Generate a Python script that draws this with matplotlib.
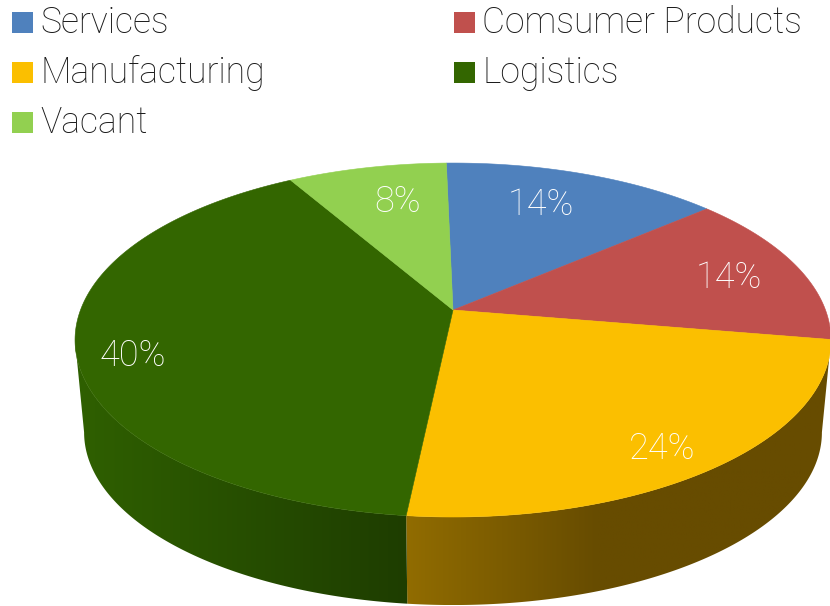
import numpy as np
import matplotlib
matplotlib.use("Agg")
import matplotlib.pyplot as plt
from matplotlib.patches import Polygon, Rectangle
from matplotlib.colors import LinearSegmentedColormap

# Occupancy shares by sector
categories = ["Services", "Comsumer Products", "Manufacturing", "Logistics", "Vacant"]
shares = [14, 14, 24, 40, 8]
colors = ["#4F81BD", "#C0504D", "#FBBF00", "#336600", "#92D050"]

# Shading along the visible rim of each slice (left colour, right colour)
rim_shades = {
    2: ("#916C00", "#674C00"),
    3: ("#2F6000", "#1E3D00"),
}

plt.rcParams["font.family"] = ["Roboto", "DejaVu Sans"]
plt.rcParams["font.weight"] = "light"

fig = plt.figure(figsize=(8.3, 6.06), dpi=100)
ax = fig.add_axes([0, 0, 1, 1])
ax.set_xlim(0, 830)
ax.set_ylim(606, 0)
ax.axis("off")

TILT = 0.1696
START = np.radians(-1.2)


def project(theta, cx, cy, scale):
    """Perspective view of a unit circle; theta runs clockwise from the top."""
    u, v = np.sin(theta), np.cos(theta)
    den = 1 + TILT * v
    return cx + scale * 372.5 * u / den, cy - scale * 171.9 * v / den


TOP = (453, 310, 1.0)
BOTTOM = (453, 403, 0.976)

edges = START + 2 * np.pi * np.concatenate([[0], np.cumsum(shares)]) / sum(shares)
silhouette_r = np.pi - np.arcsin(np.sqrt(1 - TILT**2))
silhouette_l = np.pi + np.arcsin(np.sqrt(1 - TILT**2))

# Rim of the disc, drawn first so the top face overlaps it
for i, (left, right) in rim_shades.items():
    lo = max(edges[i], silhouette_r)
    hi = min(edges[i + 1], silhouette_l)
    t = np.linspace(lo, hi, 200)
    xt, yt = project(t, *TOP)
    xb, yb = project(t[::-1], *BOTTOM)
    verts = np.column_stack([np.r_[xt, xb], np.r_[yt, yb]])
    poly = Polygon(verts, closed=True, facecolor="none", edgecolor="none")
    ax.add_patch(poly)
    x0, x1 = verts[:, 0].min(), verts[:, 0].max()
    y0, y1 = verts[:, 1].min(), verts[:, 1].max()
    if i == 2:
        cmap = LinearSegmentedColormap.from_list("rim", [(0, left), (0.45, right), (1, right)])
    else:
        cmap = LinearSegmentedColormap.from_list("rim", [(0, left), (1, right)])
    grad = np.linspace(0, 1, 256).reshape(1, -1)
    im = ax.imshow(grad, cmap=cmap, extent=(x0, x1, y1, y0), aspect="auto", zorder=1)
    im.set_clip_path(poly)

ax.set_xlim(0, 830)
ax.set_ylim(606, 0)

# Top face
for i, c in enumerate(colors):
    t = np.linspace(edges[i], edges[i + 1], 200)
    x, y = project(t, *TOP)
    verts = np.column_stack([np.r_[TOP[0], x], np.r_[TOP[1], y]])
    ax.add_patch(Polygon(verts, closed=True, facecolor=c, edgecolor=c, linewidth=0.4, zorder=2))

# Percentage labels
label_xy = [(541, 205), (729, 278), (662, 449), (133, 356), (398, 202)]
for value, (lx, ly) in zip(shares, label_xy):
    ax.text(lx, ly, f"{value}%", color="white", fontsize=26, ha="center", va="center", zorder=3)

# Legend, filled row by row in two columns
for i, (name, c) in enumerate(zip(categories, colors)):
    col, row = i % 2, i // 2
    px = 12 + col * 442
    py = 12 + row * 50
    ax.add_patch(Rectangle((px, py), 21, 21, facecolor=c, edgecolor="none", zorder=3))
    ax.text(px + 28, py + 11, name, color="#1a1a1a", fontsize=25.6, ha="left", va="center", zorder=3)

fig.savefig("out.png", dpi=100)
